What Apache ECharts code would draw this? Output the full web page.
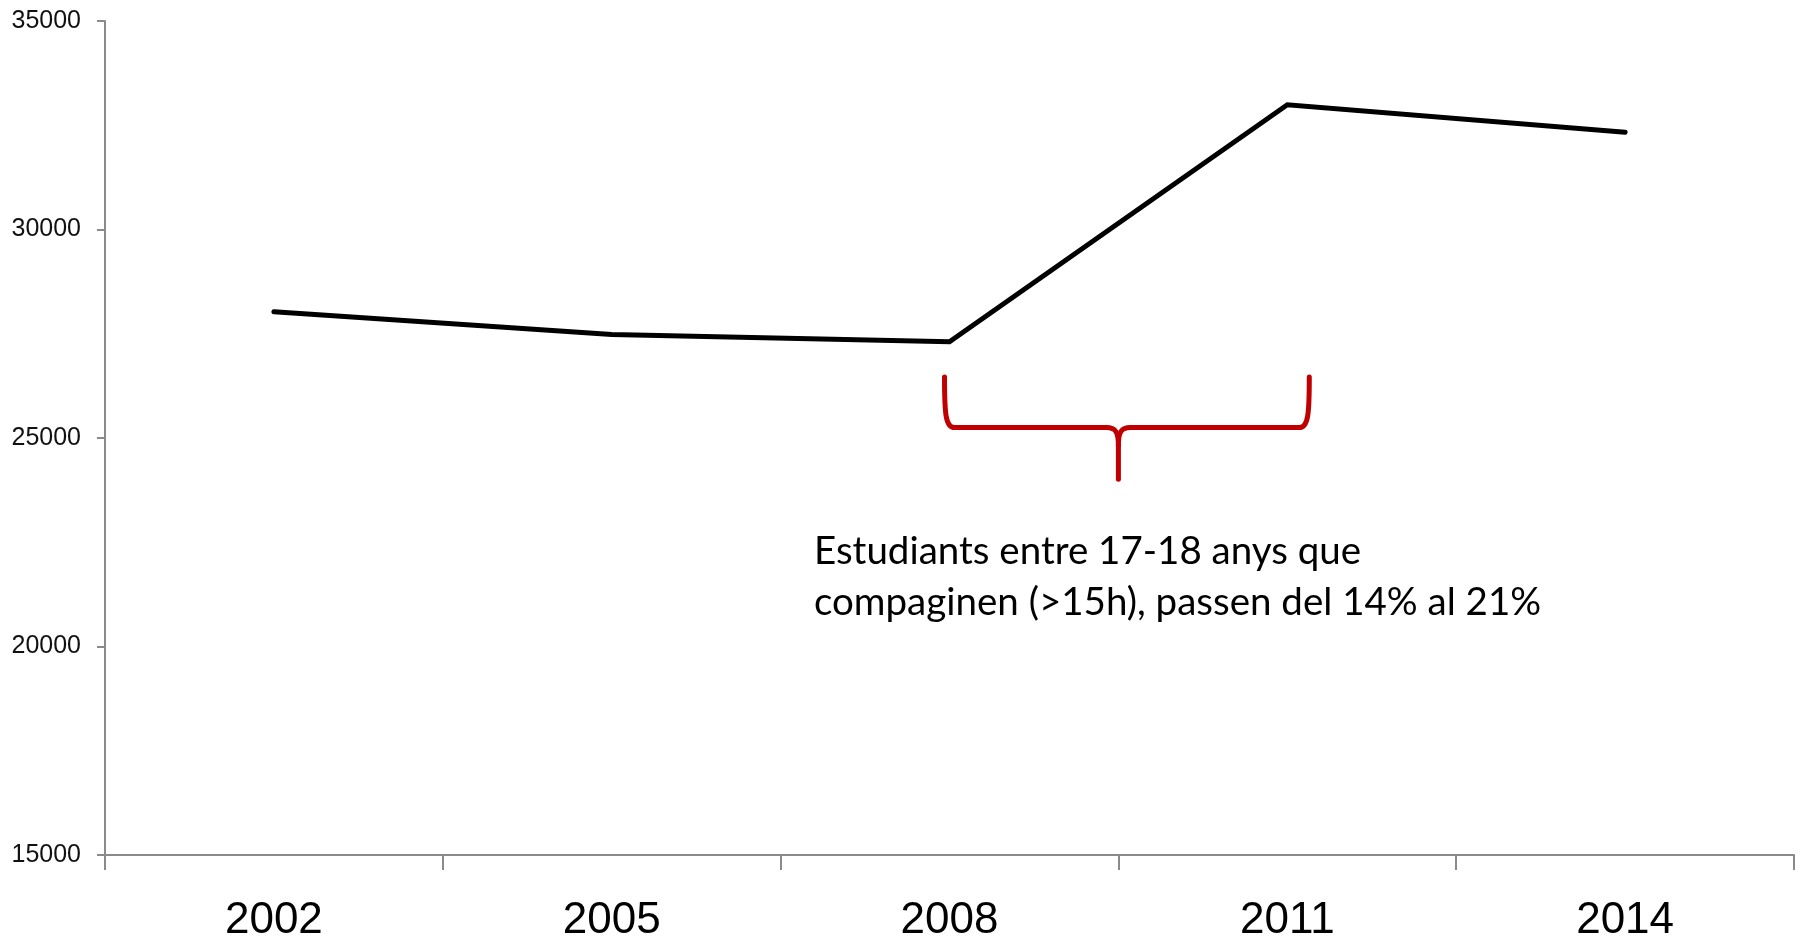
<!DOCTYPE html>
<html>
<head>
<meta charset="utf-8">
<script src="https://cdn.jsdelivr.net/npm/echarts@6/dist/echarts.min.js"></script>
<style>
  html, body { margin: 0; padding: 0; background: #fff; }
  #main { width: 1803px; height: 943px; }
</style>
</head>
<body>
<div id="main"></div>
<script>
const years = ['2002', '2005', '2008', '2011', '2014'];
const values = [28030, 27480, 27310, 32990, 32330];
const noteLines = ['Estudiants entre 17-18 anys que', 'compaginen (>15h), passen del 14% al 21%'];

const chart = echarts.init(document.getElementById('main'));

const axisGray = '#8a8a8a';

const option = {
  animation: false,
  grid: { left: 105, right: 9, top: 21, bottom: 87 },
  xAxis: {
    type: 'category',
    data: years,
    axisLine: { lineStyle: { color: axisGray, width: 2 } },
    axisTick: { show: true, length: 15, lineStyle: { color: axisGray, width: 2 } },
    axisLabel: {
      margin: 44,
      fontSize: 44,
      fontFamily: '"Liberation Sans Narrow", "Liberation Sans", sans-serif',
      color: '#000'
    }
  },
  yAxis: {
    type: 'value',
    min: 15000,
    max: 35000,
    interval: 5000,
    splitLine: { show: false },
    axisLine: { show: true, lineStyle: { color: axisGray, width: 2 } },
    axisTick: { show: true, length: 8, lineStyle: { color: axisGray, width: 2 } },
    axisLabel: {
      margin: 24,
      fontSize: 25,
      fontFamily: '"Liberation Sans", sans-serif',
      color: '#111',
      formatter: v => String(v)
    }
  },
  series: [{
    type: 'line',
    data: values,
    symbol: 'none',
    lineStyle: { color: '#000', width: 5, cap: 'round', join: 'miter' }
  }]
};

chart.setOption(option);

// curly brace between 2008 and 2011, under the line
const left = chart.convertToPixel({ gridIndex: 0 }, [2, 26460]);
const right = chart.convertToPixel({ gridIndex: 0 }, [3, 26460]);
const yMid = chart.convertToPixel({ gridIndex: 0 }, [2, 25250])[1];
const yTip = chart.convertToPixel({ gridIndex: 0 }, [2, 24010])[1];

const x0 = left[0] - 5, x1 = right[0] + 22, cx = (left[0] + right[0]) / 2;
const yTop = left[1];

const braceStyle = { stroke: '#c00000', lineWidth: 5, lineCap: 'round', fill: null };
const bez = (a, b, c1, c2) => ({
  type: 'bezierCurve',
  shape: { x1: a[0], y1: a[1], x2: b[0], y2: b[1], cpx1: c1[0], cpy1: c1[1], cpx2: c2[0], cpy2: c2[1] },
  style: braceStyle
});
const seg = (a, b) => ({
  type: 'line',
  shape: { x1: a[0], y1: a[1], x2: b[0], y2: b[1] },
  style: braceStyle
});

chart.setOption({
  graphic: [
    bez([x0, yTop], [x0 + 10, yMid], [x0, yMid - 14], [x0 + 1, yMid]),
    seg([x0 + 10, yMid], [cx - 12, yMid]),
    bez([cx - 12, yMid], [cx, yMid + 18], [cx - 3, yMid], [cx, yMid + 4]),
    seg([cx, yMid + 18], [cx, yTip]),
    bez([cx, yMid + 18], [cx + 12, yMid], [cx, yMid + 4], [cx + 3, yMid]),
    seg([cx + 12, yMid], [x1 - 10, yMid]),
    bez([x1 - 10, yMid], [x1, yTop], [x1 - 1, yMid], [x1, yMid - 14]),
    {
      type: 'text',
      left: 814,
      top: 526,
      style: {
        text: noteLines.join('\n'),
        font: '38.5px Lato, "Open Sans", sans-serif',
        lineHeight: 51,
        fill: '#000'
      }
    }
  ]
});
</script>
</body>
</html>
